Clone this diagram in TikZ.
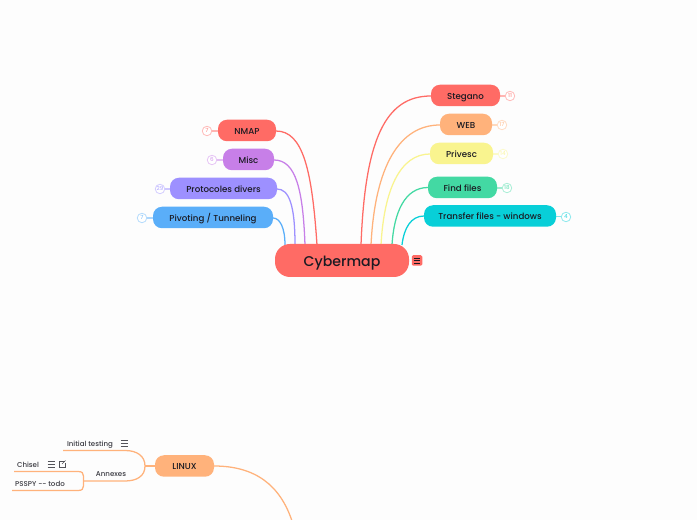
\documentclass[tikz,border=0pt]{standalone}
\usepackage{fontspec}
\setmainfont{Poppins Medium}
\definecolor{cred}{HTML}{FF6B65}
\definecolor{corange}{HTML}{FFB27B}
\definecolor{cyellow}{HTML}{F9F48F}
\definecolor{cgreen}{HTML}{43D9A3}
\definecolor{ccyan}{HTML}{08CFD8}
\definecolor{cpurple}{HTML}{C77FE8}
\definecolor{cperi}{HTML}{9D90FF}
\definecolor{cblue}{HTML}{5AAEF9}
\definecolor{ink}{HTML}{1A1A22}
\definecolor{bgc}{HTML}{FDFDFD}
\tikzset{
  topic/.style 2 args={fill=#1,text=ink,rounded corners=9*0.75pt,inner sep=0pt,
    minimum width=#2*0.75pt,minimum height=21.5*0.75pt,text height=5.8pt,text depth=0pt,
    font=\fontsize{6.5}{8}\selectfont},
  rootnode/.style={fill=cred,text=ink,rounded corners=15*0.75pt,inner sep=0pt,
    minimum width=134*0.75pt,minimum height=33*0.75pt,text height=8.4pt,text depth=0pt,
    font=\fontsize{10.6}{13}\selectfont},
  badge/.style={circle,draw=#1!45!white,fill=white,line width=0.6pt,inner sep=0pt,
    minimum size=9.5*0.75pt,text height=3pt,text depth=0pt,text=#1!70!white,font=\fontsize{4.2}{5}\selectfont},
  link/.style={draw=#1,line width=0.95pt},
  stub/.style={draw=#1!50!white,line width=0.95pt},
  plain/.style={text=ink!85!white,inner sep=0pt,text height=5.2pt,text depth=0pt,font=\fontsize{5.3}{6}\selectfont},
  iconbar/.style={draw=ink!75!white,line width=0.45pt}
}
\newcommand{\listicon}[2]{%
  \foreach \dy in {-3,0,3}{\draw[iconbar] (#1-3.5,#2+\dy) -- (#1+3.5,#2+\dy);}}
\begin{document}
\begin{tikzpicture}[x=0.75pt,y=-0.75pt]
\useasboundingbox (0,0) rectangle (697,520);
\fill[bgc] (0,0) rectangle (697,520);

% free ends on the root
\coordinate (rn) at (317,245);
\coordinate (rm) at (305,245);
\coordinate (rp) at (295,245);
\coordinate (rv) at (285,245);
\coordinate (rs) at (361,245);
\coordinate (rw) at (371,245);
\coordinate (ry) at (381,245);
\coordinate (rf) at (392,245);
\coordinate (rt) at (402,245);
\coordinate (lend) at (292,521);
\coordinate (ie) at (63,450.5);
\coordinate (ae) at (84,481);
\coordinate (ce) at (14,471.5);
\coordinate (pe) at (12,490.5);
\coordinate (lj) at (145,466);

% main curved connectors
\draw[link=cred] (276,131) .. controls (303,131) and (312,170) .. (rn);
\draw[link=cpurple] (274,160) .. controls (296,160) and (303,190) .. (rm);
\draw[link=cperi] (277,189) .. controls (289,189) and (295,205) .. (rp);
\draw[link=cblue] (273,218) .. controls (280,218) and (285,228) .. (rv);
\draw[link=cred] (431,96) .. controls (385,96) and (365,140) .. (rs);
\draw[link=corange] (440,125) .. controls (400,125) and (375,165) .. (rw);
\draw[link=cyellow] (430,154) .. controls (400,154) and (384,190) .. (ry);
\draw[link=cgreen] (428,187.5) .. controls (405,187.5) and (394,212) .. (rf);
\draw[link=ccyan] (424,216) .. controls (411,216) and (404,228) .. (rt);
\draw[link=corange] (214,466) .. controls (255,466) and (280,485) .. (lend);

% linux branch lines
\draw[link=corange] (ie) -- (125,450.5) .. controls (137,450.5) and (145,456) .. (lj)
   .. controls (145,476) and (137,481) .. (125,481) -- (ae);
\draw[link=corange] (lj) -- (155,466);
\draw[link=corange] (ce) -- (78,471.5) .. controls (82,471.5) and (83.5,473) .. (83.5,476)
   -- (83.5,486) .. controls (83.5,489) and (82,490.5) .. (78,490.5) -- (pe);

% stubs
\draw[stub=cred] (212,131) -- (218,131);
\draw[stub=cpurple] (217,160) -- (223,160);
\draw[stub=cperi] (165,189) -- (170,189);
\draw[stub=cblue] (147,218) -- (153,218);
\draw[stub=cred] (500,96) -- (505,96);
\draw[stub=corange] (492,125) -- (497,125);
\draw[stub=cyellow] (493,154) -- (498,154);
\draw[stub=cgreen] (497,188) -- (502,188);
\draw[stub=ccyan] (556,216.5) -- (561,216.5);

% topics
\node[rootnode] (root) at (342,260.5) {Cybermap};
\node[topic={cred}{58}] (nmap) at (247,130.5) {NMAP};
\node[topic={cpurple}{51}] (misc) at (248.5,159.5) {Misc};
\node[topic={cperi}{107}] (proto) at (223.5,188.5) {Protocoles divers};
\node[topic={cblue}{120}] (pivot) at (213,217.5) {Pivoting / Tunneling};
\node[topic={cred}{69}] (steg) at (465.5,95.5) {Stegano};
\node[topic={corange}{52}] (web) at (466,124.5) {WEB};
\node[topic={cyellow}{63}] (priv) at (461.5,153.5) {Privesc};
\node[topic={cgreen}{69}] (find) at (462.5,187.5) {Find files};
\node[topic={ccyan}{132}] (trans) at (490,216) {Transfer files - windows};
\node[topic={corange}{59}] (linux) at (184.5,466) {LINUX};

% badges
\node[badge=cred] (bn) at (207,131) {7};
\node[badge=cpurple] (bm) at (212,160) {6};
\node[badge=cperi] (bp) at (160,189) {29};
\node[badge=cblue] (bv) at (142,218) {7};
\node[badge=cred] (bs) at (510,96) {11};
\node[badge=corange] (bw) at (502,125) {17};
\node[badge=cyellow] (by) at (503,154) {14};
\node[badge=cgreen] (bf) at (507,188) {18};
\node[badge=ccyan] (bt) at (566,217) {4};

% root note icon
\node[fill=cred,rounded corners=1pt,minimum size=10.5*0.75pt,inner sep=0pt] (ricon) at (417,260.5) {};
\foreach \dy in {-2.6,0,2.6}{\draw[ink,line width=0.5pt] (413.7,260.5+\dy) -- (420.3,260.5+\dy);}

% plain labels
\node[plain] (tinit) at (90,443.5) {Initial testing};
\node[plain] (tann) at (111,473.5) {Annexes};
\node[plain] (tchi) at (28,464.5) {Chisel};
\node[plain] (tpsp) at (40,483.5) {PSSPY -{}- todo};
\listicon{124}{443.5}
\listicon{51}{464.5}
\draw[iconbar] (65,461) -- (59,461) -- (59,467.5) -- (65.5,467.5) -- (65.5,463);
\draw[iconbar] (62,464) -- (65.5,460.5);
\end{tikzpicture}
\end{document}
